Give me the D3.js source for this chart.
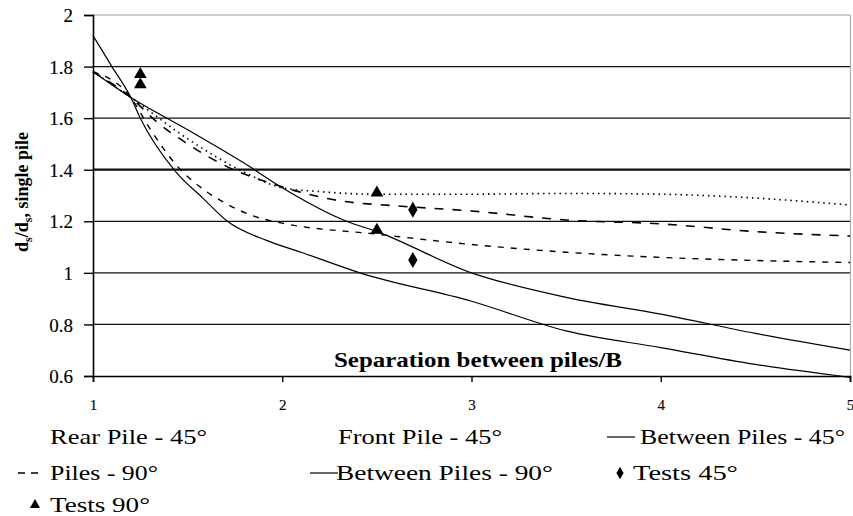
<!DOCTYPE html>
<html><head><meta charset="utf-8">
<script src="https://cdn.jsdelivr.net/npm/d3@7"></script>
<style>body{margin:0;background:#fff}svg{display:block}text{font-family:"Liberation Serif","Times New Roman",serif}</style>
</head><body>
<svg id="c" width="853" height="516"></svg>
<script>
const xTicks = [1, 2, 3, 4, 5];
const yTicks = [0.6, 0.8, 1, 1.2, 1.4, 1.6, 1.8, 2];
const yTickLabels = ["0.6", "0.8", "1", "1.2", "1.4", "1.6", "1.8", "2"];

const rearPile45 = [[1,1.78],[1.2,1.68],[1.5,1.52],[1.8,1.39],[2,1.33],[2.2,1.315],[2.5,1.305],[3,1.305],[3.5,1.308],[4,1.305],[4.5,1.29],[5,1.263]];
const frontPile45 = [[1,1.78],[1.2,1.68],[1.33,1.59],[1.5,1.50],[1.7,1.415],[1.95,1.345],[2.3,1.28],[2.6,1.26],[3,1.24],[3.5,1.205],[4,1.19],[4.5,1.16],[5,1.143]];
const between45 = [[1,1.78],[1.2,1.68],[1.5,1.555],[1.8,1.425],[2,1.33],[2.34,1.20],[2.5,1.16],[3,1.0],[3.5,0.905],[4,0.84],[4.5,0.765],[5,0.70]];
const piles90 = [[1,1.78],[1.2,1.68],[1.3,1.56],[1.45,1.41],[1.6,1.315],[1.7,1.27],[1.85,1.22],[2,1.193],[2.5,1.15],[3,1.11],[3.5,1.08],[4,1.06],[4.5,1.048],[5,1.04]];
const between90 = [[1,1.92],[1.1,1.80],[1.2,1.68],[1.25,1.60],[1.44,1.39],[1.58,1.29],[1.71,1.20],[1.92,1.125],[2.1,1.08],[2.41,1.0],[3,0.89],[3.5,0.775],[4,0.71],[4.5,0.645],[5,0.595]];
const tests45 = [[2.69,1.245],[2.69,1.05]];
const tests90 = [[1.25,1.77],[1.25,1.73],[2.5,1.31],[2.5,1.166]];

const legendLabels = ["Rear Pile - 45°","Front Pile - 45°","Between Piles - 45°","Piles - 90°","Between Piles - 90°","Tests 45°","Tests 90°"];

const svg = d3.select("#c");
const x = d3.scaleLinear().domain([1,5]).range([93,850]);
const y = d3.scaleLinear().domain([0.6,2]).range([376,15]);
const font = "Liberation Serif, Times New Roman, serif";

// gridlines
svg.append("g").selectAll("line").data(yTicks.filter(v => v > 0.6)).join("line")
  .attr("x1", x(1)).attr("x2", x(5))
  .attr("y1", d => y(d)).attr("y2", d => y(d))
  .attr("stroke", d => d === 2 ? "#999" : "#111")
  .attr("stroke-width", d => d === 1.4 ? 2.2 : 1.2);
// right border
svg.append("line").attr("x1", x(5)+0.5).attr("x2", x(5)+0.5).attr("y1", y(2)).attr("y2", y(0.6))
  .attr("stroke", "#aaa").attr("stroke-width", 1.2);

// axes
const yAxis = d3.axisLeft(y).tickValues(yTicks).tickFormat((d,i) => yTickLabels[i]).tickSize(9).tickPadding(11);
const gy = svg.append("g").attr("transform", `translate(${x(1)},0)`).call(yAxis);
const xAxis = d3.axisBottom(x).tickValues(xTicks).tickFormat(d3.format("d")).tickSize(6).tickPadding(17);
const gx = svg.append("g").attr("transform", `translate(0,${y(0.6)})`).call(xAxis);
[gx, gy].forEach(g => {
  g.attr("font-family", null).attr("font-size", null);
  g.select(".domain").attr("stroke", "#000").attr("stroke-width", 1.6);
  g.selectAll(".tick line").attr("stroke", "#000").attr("stroke-width", 1.4);
  g.selectAll(".tick text").style("font-family", font).attr("fill", "#000")
    .attr("stroke", "#000").attr("stroke-width", 0.15);
});
gy.selectAll(".tick text").style("font-size", "19px").attr("dy", "0.35em");
gx.selectAll(".tick text").style("font-size", "15px");

const line = d3.line().x(d => x(d[0])).y(d => y(d[1])).curve(d3.curveMonotoneX);
const series = [
  {d: rearPile45, dash: "1.5,4", w: 1.6},
  {d: frontPile45, dash: "9,9", w: 1.6},
  {d: between45, dash: null, w: 1.2},
  {d: piles90, dash: "6,7", w: 1.4},
  {d: between90, dash: null, w: 1.2}
];
svg.append("g").selectAll("path").data(series).join("path")
  .attr("d", s => line(s.d)).attr("fill", "none").attr("stroke", "#000")
  .attr("stroke-width", s => s.w).attr("stroke-dasharray", s => s.dash);

const tri = d3.symbol().type(d3.symbolTriangle).size(70);
const dia = d3.symbol().type(d3.symbolDiamond).size(75);
svg.append("g").selectAll("path").data(tests90).join("path")
  .attr("d", tri).attr("transform", d => `translate(${x(d[0])},${y(d[1])})`).attr("fill", "#000");
svg.append("g").selectAll("path").data(tests45).join("path")
  .attr("d", dia).attr("transform", d => `translate(${x(d[0])},${y(d[1])})`).attr("fill", "#000");

// axis titles
svg.append("text").attr("x", 478).attr("y", 367).attr("text-anchor", "middle")
  .style("font-family", font).attr("font-weight", "bold").attr("font-size", 22)
  .attr("textLength", 288).attr("lengthAdjust", "spacingAndGlyphs")
  .text("Separation between piles/B");

const yt = svg.append("text").attr("transform", "translate(28,192) rotate(-90)").attr("text-anchor", "middle")
  .style("font-family", font).attr("font-weight", "bold").attr("font-size", 18);
yt.append("tspan").text("d");
yt.append("tspan").attr("font-size", 12).attr("dy", 4).text("s");
yt.append("tspan").attr("dy", -4).text("/d");
yt.append("tspan").attr("font-size", 12).attr("dy", 4).text("s");
yt.append("tspan").attr("dy", -4).text(", single pile");

// legend
const legItems = [
  {t: 0, x: 50, y: 444, w: 157, s: null},
  {t: 1, x: 338, y: 444, w: 164, s: null},
  {t: 2, x: 640, y: 444, w: 205, s: "line", sx: 607},
  {t: 3, x: 50, y: 480, w: 108, s: "dash", sx: 18},
  {t: 4, x: 336, y: 480, w: 217, s: "line", sx: 310},
  {t: 5, x: 633, y: 480, w: 105, s: "dia", sx: 620},
  {t: 6, x: 50, y: 512, w: 100, s: "tri", sx: 35}
];
const lg = svg.append("g");
legItems.forEach(it => {
  lg.append("text").attr("x", it.x).attr("y", it.y).style("font-family", font).attr("font-size", 22)
    .attr("textLength", it.w).attr("lengthAdjust", "spacingAndGlyphs").text(legendLabels[it.t]);
  const cy = it.y - 7;
  if (it.s === "line") lg.append("line").attr("x1", it.sx).attr("x2", it.sx + 28).attr("y1", cy).attr("y2", cy).attr("stroke", "#000").attr("stroke-width", 1.2);
  if (it.s === "dash") lg.append("line").attr("x1", it.sx).attr("x2", it.sx + 26).attr("y1", cy).attr("y2", cy).attr("stroke", "#000").attr("stroke-width", 1.4).attr("stroke-dasharray", "7,6");
  if (it.s === "dia") lg.append("path").attr("d", d3.symbol().type(d3.symbolDiamond).size(45)).attr("transform", `translate(${it.sx},${cy})`);
  if (it.s === "tri") lg.append("path").attr("d", d3.symbol().type(d3.symbolTriangle).size(45)).attr("transform", `translate(${it.sx},${cy})`);
});
</script>
</body></html>
